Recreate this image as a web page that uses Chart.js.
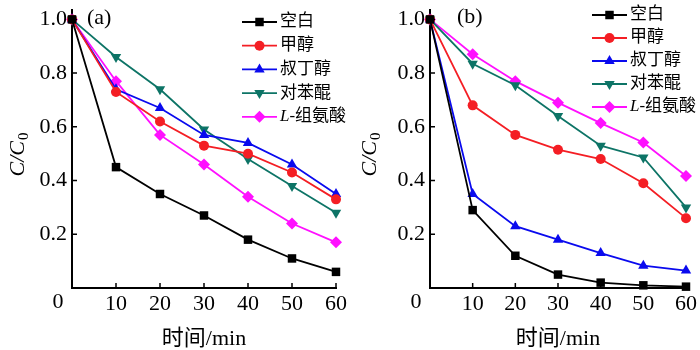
<!DOCTYPE html>
<html>
<head>
<meta charset="utf-8">
<script src="https://cdn.jsdelivr.net/npm/chart.js@4"></script>
<style>
  html, body { margin: 0; padding: 0; background: #fff; }
  .wrap { display: flex; width: 700px; height: 350px; }
  .box { position: relative; width: 350px; height: 350px; }
</style>
</head>
<body>
<div class="wrap">
  <div class="box"><canvas id="chartA"></canvas></div>
  <div class="box"><canvas id="chartB"></canvas></div>
</div>
<script>
// 数据 (C/C0 随时间变化)
const times = [0, 10, 20, 30, 40, 50, 60];
const seriesNames = ["空白", "甲醇", "叔丁醇", "对苯醌", "L-组氨酸"];
const xTicks = [10, 20, 30, 40, 50, 60];
const yTicks = [0.2, 0.4, 0.6, 0.8, 1.0];

// (a)
const aBlank    = [1.0, 0.45, 0.35, 0.27, 0.18, 0.11, 0.06];
const aMethanol = [1.0, 0.73, 0.62, 0.53, 0.50, 0.43, 0.33];
const aTBA      = [1.0, 0.74, 0.67, 0.57, 0.54, 0.46, 0.35];
const aBQ       = [1.0, 0.86, 0.74, 0.59, 0.48, 0.38, 0.28];
const aHis      = [1.0, 0.77, 0.57, 0.46, 0.34, 0.24, 0.17];

// (b)
const bBlank    = [1.0, 0.29, 0.12, 0.05, 0.02, 0.01, 0.005];
const bMethanol = [1.0, 0.68, 0.57, 0.515, 0.48, 0.39, 0.26];
const bTBA      = [1.0, 0.35, 0.23, 0.18, 0.13, 0.083, 0.065];
const bBQ       = [1.0, 0.835, 0.755, 0.64, 0.53, 0.486, 0.30];
const bHis      = [1.0, 0.87, 0.77, 0.69, 0.614, 0.542, 0.417];

const colors = ["#000000", "#f41e24", "#0a0aee", "#0d7466", "#ff10ff"];
const markers = [
    { style: "rect", rot: 0, r: 6 },
    { style: "circle", rot: 0, r: 5 },
    { style: "triangle", rot: 0, r: 6 },
    { style: "triangle", rot: 180, r: 6 },
    { style: "rectRot", rot: 0, r: 6 }
];

const serif = "'Liberation Serif', 'Noto Sans CJK SC', serif";

function makeDatasets(list) {
    return list.map((vals, i) => ({
        label: seriesNames[i],
        data: vals,
        borderColor: colors[i],
        backgroundColor: colors[i],
        borderWidth: 1.8,
        pointStyle: markers[i].style,
        rotation: markers[i].rot,
        pointRadius: markers[i].r,
        pointBorderWidth: 0,
        tension: 0,
        clip: false
    }));
}

// 自定义绘制: 坐标轴标题, 面板标签, 内向刻度, 图例
const decorPlugin = {
    id: "decor",
    afterDraw(chart, args, opts) {
        const ctx = chart.ctx;
        const area = chart.chartArea;
        const xs = chart.scales.x, ys = chart.scales.y;
        ctx.save();

        // 内向刻度线
        ctx.strokeStyle = "#000";
        ctx.lineWidth = 1.5;
        ctx.beginPath();
        yTicks.forEach(v => {
            const y = ys.getPixelForValue(v);
            ctx.moveTo(area.left, y);
            ctx.lineTo(area.left + 5, y);
        });
        xTicks.forEach(v => {
            const x = xs.getPixelForValue(v);
            ctx.moveTo(x, area.bottom);
            ctx.lineTo(x, area.bottom - 5);
        });
        ctx.stroke();

        ctx.fillStyle = "#000";
        // 原点 "0"
        ctx.font = "22px " + serif;
        ctx.textAlign = "center";
        ctx.textBaseline = "middle";
        ctx.fillText("0", area.left - 14, 302);

        // y 刻度标签
        ctx.textAlign = "right";
        yTicks.forEach(v => {
            ctx.fillText(v.toFixed(1), area.left - 5, ys.getPixelForValue(v));
        });

        // 面板标签
        ctx.textAlign = "left";
        ctx.fillText(opts.panel, opts.panelX, opts.panelY);

        // x 轴标题
        ctx.textAlign = "center";
        ctx.fillText("时间/min", (area.left + area.right) / 2, 339);

        // y 轴标题 C/C0
        ctx.save();
        ctx.translate(opts.yTitleX, (area.top + area.bottom) / 2 + 6);
        ctx.rotate(-Math.PI / 2);
        ctx.textAlign = "left";
        ctx.textBaseline = "middle";
        ctx.font = "italic 22px " + serif;
        const main = "C/C";
        const w = ctx.measureText(main).width;
        ctx.font = "15px " + serif;
        const sw = ctx.measureText("0").width;
        const start = -(w + sw) / 2;
        ctx.font = "italic 22px " + serif;
        ctx.fillText(main, start, 0);
        ctx.font = "15px " + serif;
        ctx.fillText("0", start + w + 1, 6);
        ctx.restore();

        // 图例
        chart.data.datasets.forEach((ds, i) => {
            const y = opts.legendY + i * opts.legendGap;
            const x0 = opts.legendX;
            ctx.strokeStyle = ds.borderColor;
            ctx.fillStyle = ds.borderColor;
            ctx.lineWidth = 1.8;
            ctx.beginPath();
            ctx.moveTo(x0, y);
            ctx.lineTo(x0 + 35, y);
            ctx.stroke();
            Chart.helpers.drawPoint(ctx, {
                pointStyle: ds.pointStyle,
                rotation: ds.rotation,
                radius: ds.pointRadius,
                borderWidth: 0
            }, x0 + 17.5, y);
            ctx.fillStyle = "#000";
            ctx.textAlign = "left";
            ctx.textBaseline = "middle";
            let tx = x0 + 38;
            let label = ds.label;
            if (label.startsWith("L-")) {
                ctx.font = "italic 17px " + serif;
                ctx.fillText("L", tx, y);
                tx += ctx.measureText("L").width;
                label = label.slice(1);
            }
            ctx.font = "17px " + serif;
            ctx.fillText(label, tx, y);
        });
        ctx.restore();
    }
};

function makeChart(id, datasets, leftWidth, opts) {
    const ctx = document.getElementById(id)?.getContext("2d");
    if (!ctx) return;
    new Chart(ctx, {
        type: "line",
        data: { labels: times, datasets: datasets },
        plugins: [decorPlugin],
        options: {
            responsive: false,
            animation: false,
            layout: { padding: { top: 10, right: 11, left: 0, bottom: 0 } },
            plugins: {
                legend: { display: false },
                tooltip: { enabled: false },
                decor: opts
            },
            scales: {
                x: {
                    type: "linear",
                    min: 0,
                    max: 60,
                    afterFit: s => { s.height = 62; },
                    afterBuildTicks: s => { s.ticks = xTicks.map(v => ({ value: v })); },
                    grid: { display: true, drawOnChartArea: false, drawTicks: false },
                    border: { display: true, color: "#000", width: 2 },
                    ticks: {
                        padding: 3,
                        color: "#000",
                        font: { family: serif, size: 22 }
                    }
                },
                y: {
                    min: 0,
                    max: 1.035,
                    afterFit: s => { s.width = leftWidth; },
                    afterBuildTicks: s => { s.ticks = yTicks.map(v => ({ value: v })); },
                    grid: { display: true, drawOnChartArea: false, drawTicks: false },
                    border: { display: true, color: "#000", width: 2 },
                    ticks: { display: false }
                }
            }
        }
    });
}

document.getElementById("chartA").width = 350;
document.getElementById("chartA").height = 350;
document.getElementById("chartB").width = 350;
document.getElementById("chartB").height = 350;

makeChart("chartA", makeDatasets([aBlank, aMethanol, aTBA, aBQ, aHis]), 72, {
    panel: "(a)", panelX: 87, panelY: 18, yTitleX: 18,
    legendX: 242, legendY: 22, legendGap: 23.7
});
makeChart("chartB", makeDatasets([bBlank, bMethanol, bTBA, bBQ, bHis]), 80, {
    panel: "(b)", panelX: 107, panelY: 17, yTitleX: 20,
    legendX: 242, legendY: 15, legendGap: 23
});
</script>
</body>
</html>
